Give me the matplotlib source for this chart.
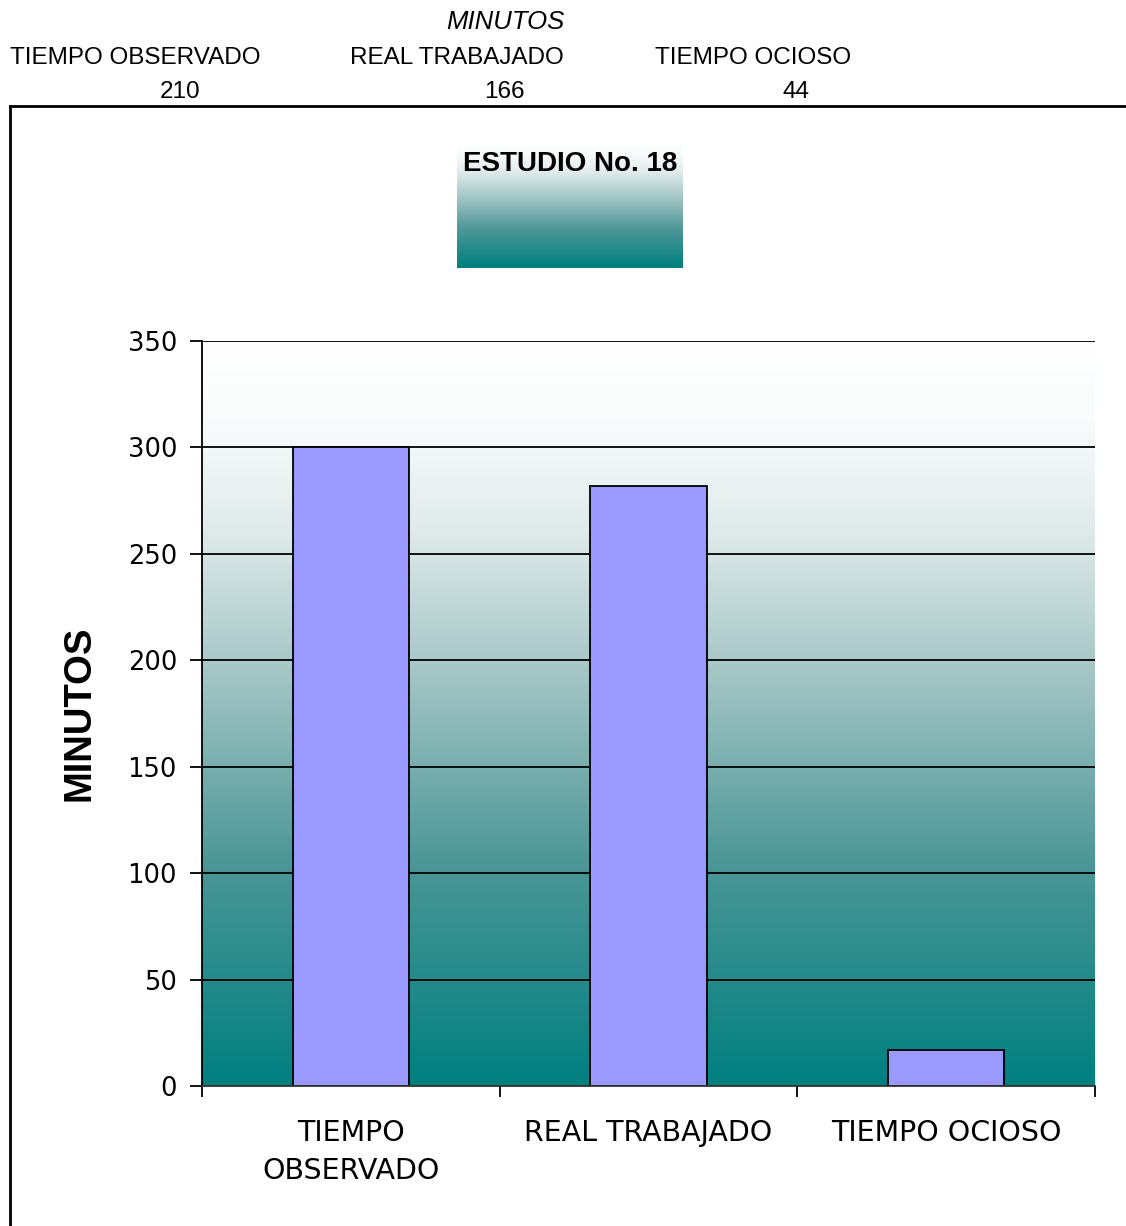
import numpy as np
import matplotlib.pyplot as plt
from matplotlib.colors import LinearSegmentedColormap
from matplotlib.lines import Line2D

categories = ["TIEMPO\nOBSERVADO", "REAL TRABAJADO", "TIEMPO OCIOSO"]
minutos = [300, 282, 17]

header_labels = ["TIEMPO OBSERVADO", "REAL TRABAJADO", "TIEMPO OCIOSO"]
header_values = [210, 166, 44]
yticks = [0, 50, 100, 150, 200, 250, 300, 350]

W, H = 1126, 1226
fig = plt.figure(figsize=(W / 100, H / 100), dpi=100)
plt.rcParams['font.family'] = ['Liberation Sans', 'DejaVu Sans']

teal = LinearSegmentedColormap.from_list(
    "teal_grad",
    [(0.0, (0.0, 0.50, 0.50)),
     (0.30, (0.30, 0.59, 0.59)),
     (0.55, (0.64, 0.77, 0.77)),
     (0.75, (0.88, 0.92, 0.92)),
     (0.90, (0.98, 0.99, 0.99)),
     (1.0, (1.0, 1.0, 1.0))])

# table at the top
fig.text(505 / W, 1 - 22 / H, "MINUTOS", ha='center', va='center',
         fontsize=18.5, style='italic')
for x, lab in zip([135, 457, 753], header_labels):
    fig.text(x / W, 1 - 58 / H, lab, ha='center', va='center', fontsize=17.5)
for x, v in zip([180, 504, 796], header_values):
    fig.text(x / W, 1 - 92 / H, str(v), ha='center', va='center', fontsize=17.5)

# chart frame
fig.add_artist(Line2D([10 / W, 1.0], [1 - 106 / H, 1 - 106 / H],
                      transform=fig.transFigure, color='black', lw=2))
fig.add_artist(Line2D([10 / W, 10 / W], [1 - 106 / H, 0.0],
                      transform=fig.transFigure, color='black', lw=2))

# title box
tax = fig.add_axes([457 / W, 1 - 268 / H, 226 / W, 128 / H])
grad = np.linspace(0, 1, 256).reshape(-1, 1)
tax.imshow(grad, cmap=teal, aspect='auto', extent=[0, 1, 0, 1], origin='lower')
tax.axis('off')
tax.text(0.5, 0.81, "ESTUDIO No. 18", ha='center', va='center',
         fontsize=20, fontweight='bold', transform=tax.transAxes)

# main chart
ax = fig.add_axes([202 / W, 1 - 1086 / H, 893 / W, 745 / H])
x = np.arange(len(categories))
ax.imshow(grad, cmap=teal, aspect='auto', extent=[-0.5, 2.5, 0, 350],
          origin='lower', zorder=0)
ax.set_xlim(-0.5, 2.5)
ax.set_ylim(0, 350)
for y in yticks[1:]:
    ax.axhline(y, color='black', lw=1.3, zorder=1)
ax.bar(x, minutos, width=0.39, color='#9999FF', edgecolor='black',
       linewidth=1.3, zorder=2)

ax.set_yticks(yticks)
ax.set_yticklabels([str(t) for t in yticks], family='DejaVu Sans')
ax.tick_params(axis='y', length=9, width=1.3, pad=9, labelsize=18.5)
ax.set_xticks([-0.5, 0.5, 1.5, 2.5])
ax.set_xticklabels([])
ax.tick_params(axis='x', which='major', length=8, width=1.3)
ax.set_xticks(x, minor=True)
ax.set_xticklabels(categories, minor=True, fontsize=20.5, linespacing=1.45,
                   family='DejaVu Sans')
ax.tick_params(axis='x', which='minor', length=0, pad=24)

ax.spines['top'].set_visible(False)
ax.spines['right'].set_visible(False)
ax.spines['left'].set_linewidth(1.3)
ax.spines['bottom'].set_linewidth(1.3)
ax.spines['bottom'].set_color('#333333')

fig.text(80 / W, 1 - 713 / H, "MINUTOS", rotation=90, ha='center',
         va='center', fontsize=27.5, fontweight='bold')

fig.savefig("out.png", dpi=100)
